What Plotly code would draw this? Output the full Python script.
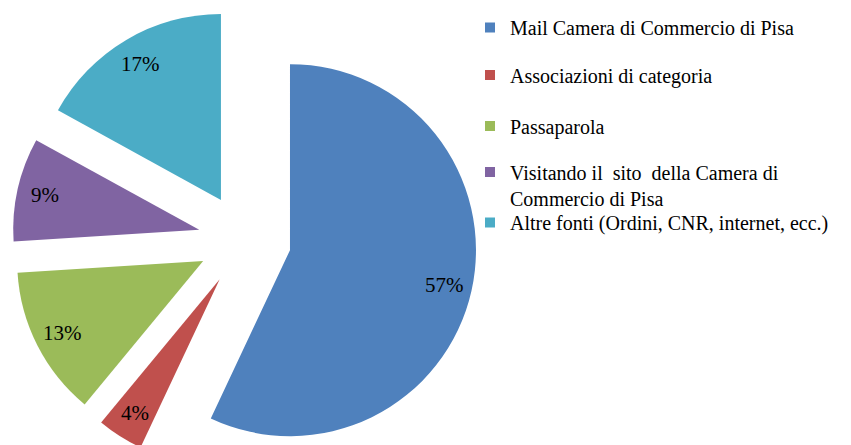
import math
import plotly.graph_objects as go

# data
labels = ['Mail Camera di Commercio di Pisa',
          'Associazioni di categoria',
          'Passaparola',
          'Visitando il  sito  della Camera di<br>Commercio di Pisa',
          'Altre fonti (Ordini, CNR, internet, ecc.)']
values = [57, 4, 13, 9, 17]
colors = ['#4F81BD', '#C0504D', '#9BBB59', '#8064A2', '#4BACC6']

W, H = 851, 460  # a little taller than the window so the exploded red slice is not squeezed
OFF = 8          # the html body margin shifts the figure by 8px on the page
R = 186          # slice radius (px)
PULL = 46.5      # explosion distance (px)
CX, CY = 244.6 - OFF, 240 - OFF   # pie centre before explosion (px from top-left of figure)
LABEL_R = 0.85   # where the percentage labels sit, as a fraction of the radius
FONT = 'Liberation Serif'

fig = go.Figure()
annotations = []

total = sum(values)
cum = 0
for i, v in enumerate(values):
    theta = 2 * math.pi * (cum + v / 2) / total
    cum += v
    ax = CX + PULL * math.sin(theta)
    ay = CY - PULL * math.cos(theta)
    r = min(R, ax, W - ax, ay, H - ay)
    dx = [max(0, (ax - r) / W), min(1, (ax + r) / W)]
    dy = [max(0, 1 - (ay + r) / H), min(1, 1 - (ay - r) / H)]

    fig.add_trace(go.Pie(
        values=values,
        labels=labels,
        sort=False,
        direction='clockwise',
        rotation=0,
        domain=dict(x=dx, y=dy),
        marker=dict(colors=[c if j == i else 'rgba(0,0,0,0)' for j, c in enumerate(colors)],
                    line=dict(width=0)),
        textinfo='none',
        hoverinfo='skip',
        showlegend=False,
    ))

    # percentage label, Excel style: out along the slice's mid angle
    lx = ax + LABEL_R * R * math.sin(theta)
    ly = ay - LABEL_R * R * math.cos(theta)
    annotations.append(dict(
        x=lx / W, y=1 - ly / H, xref='paper', yref='paper',
        text='%d%%' % round(100 * v / total), showarrow=False,
        xanchor='center', yanchor='middle',
        font=dict(family=FONT, size=21, color='#000000'),
    ))

# legend entries, each in its own legend box so the spacing can follow the original
legend_y = [27.5, 75, 126, 185, 222.5]
layout_legends = {}
for i, (lab, c) in enumerate(zip(labels, colors)):
    key = 'legend' if i == 0 else 'legend%d' % (i + 1)
    fig.add_trace(go.Scatter(
        x=[None], y=[None], mode='markers', name=lab,
        marker=dict(symbol='square', size=10, color=c),
        legend=key, showlegend=True,
    ))
    layout_legends[key] = dict(
        x=(510 - OFF - 40) / W, y=1 - (legend_y[i] - OFF) / H,
        xanchor='left', yanchor='middle',
        bgcolor='rgba(0,0,0,0)', valign='top',
        font=dict(family=FONT, size=20, color='#000000'),
    )

fig.update_layout(
    width=W, height=H,
    margin=dict(l=0, r=0, t=0, b=0),
    paper_bgcolor='white',
    plot_bgcolor='white',
    xaxis=dict(visible=False),
    yaxis=dict(visible=False),
    annotations=annotations,
    **layout_legends,
)

fig.write_html('out.html')
